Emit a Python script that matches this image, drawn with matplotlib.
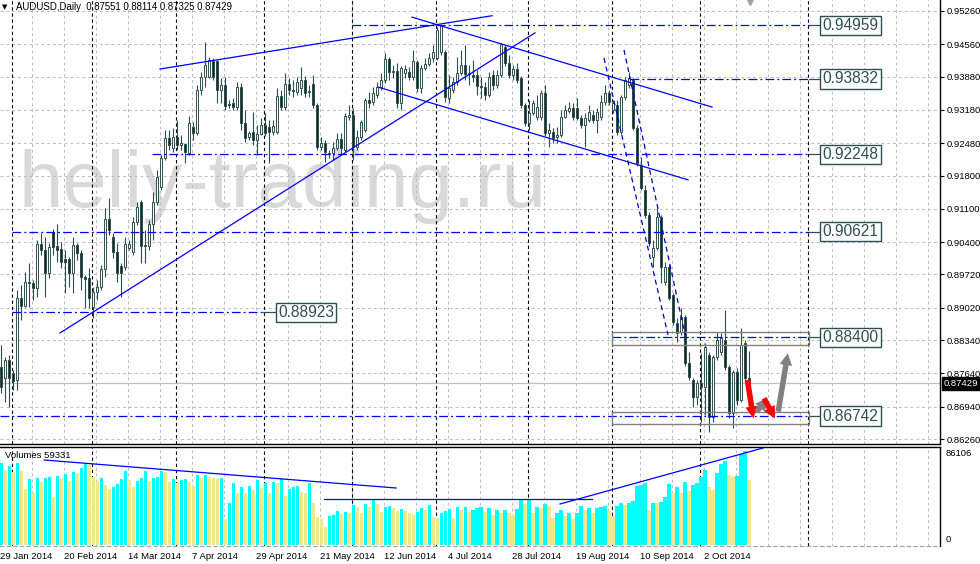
import matplotlib
matplotlib.use("Agg")
import matplotlib.pyplot as plt
from matplotlib.patches import Rectangle
import numpy as np

plt.rcParams['font.family'] = ['Liberation Sans', 'DejaVu Sans']

# ---------------- data ----------------
opens = [
 0.8777, 0.8754, 0.8792, 0.8765, 0.8750, 0.8923, 0.8906, 0.8956, 0.8954, 0.8944,
 0.9036, 0.9023, 0.8975, 0.9061, 0.9032, 0.9026, 0.9005, 0.9005, 0.8975, 0.9034,
 0.9017, 0.8967, 0.8965, 0.8904, 0.8935, 0.8946, 0.8984, 0.9089, 0.9051, 0.9019,
 0.8990, 0.8988, 0.9028, 0.9019, 0.9082, 0.9124, 0.9034, 0.9032, 0.9078, 0.9124,
 0.9156, 0.9217, 0.9259, 0.9238, 0.9261, 0.9244, 0.9246, 0.9227, 0.9282, 0.9269,
 0.9360, 0.9387, 0.9387, 0.9421, 0.9421, 0.9360, 0.9370, 0.9330, 0.9332, 0.9324,
 0.9366, 0.9291, 0.9261, 0.9272, 0.9255, 0.9267, 0.9286, 0.9282, 0.9272, 0.9272,
 0.9347, 0.9324, 0.9373, 0.9360, 0.9356, 0.9364, 0.9381, 0.9358, 0.9373, 0.9328,
 0.9240, 0.9248, 0.9225, 0.9227, 0.9238, 0.9257, 0.9234, 0.9303, 0.9307, 0.9240,
 0.9261, 0.9276, 0.9339, 0.9334, 0.9349, 0.9366, 0.9381, 0.9425, 0.9398, 0.9400,
 0.9332, 0.9396, 0.9398, 0.9387, 0.9419, 0.9364, 0.9406, 0.9414, 0.9427, 0.9427,
 0.9440, 0.9440, 0.9343, 0.9360, 0.9377, 0.9396, 0.9412, 0.9394, 0.9391, 0.9391,
 0.9368, 0.9366, 0.9349, 0.9391, 0.9370, 0.9391, 0.9450, 0.9417, 0.9391, 0.9404,
 0.9385, 0.9328, 0.9291, 0.9311, 0.9303, 0.9303, 0.9353, 0.9269, 0.9272, 0.9261,
 0.9265, 0.9303, 0.9316, 0.9322, 0.9322, 0.9301, 0.9286, 0.9297, 0.9307, 0.9297,
 0.9303, 0.9335, 0.9353, 0.9318, 0.9328, 0.9272, 0.9345, 0.9370, 0.9381, 0.9280,
 0.9202, 0.9150, 0.9097, 0.9009, 0.9028, 0.9093, 0.8956, 0.8988, 0.8929, 0.8870,
 0.8851, 0.8883, 0.8786, 0.8750, 0.8714, 0.8744, 0.8735, 0.8803, 0.8672, 0.8798,
 0.8809, 0.8834, 0.8777, 0.8681, 0.8767, 0.8708, 0.8828, 0.87551]

highs = [
 0.8824, 0.8798, 0.8803, 0.8771, 0.8939, 0.8950, 0.8977, 0.8996, 0.8960, 0.9044,
 0.9059, 0.9051, 0.9038, 0.9068, 0.9078, 0.9040, 0.9023, 0.9009, 0.9051, 0.9038,
 0.9023, 0.8971, 0.8986, 0.8946, 0.8960, 0.8992, 0.9112, 0.9133, 0.9059, 0.9038,
 0.8996, 0.9051, 0.9044, 0.9093, 0.9124, 0.9129, 0.9066, 0.9087, 0.9145, 0.9192,
 0.9223, 0.9276, 0.9276, 0.9280, 0.9297, 0.9265, 0.9248, 0.9305, 0.9293, 0.9370,
 0.9398, 0.9461, 0.9429, 0.9427, 0.9423, 0.9385, 0.9387, 0.9339, 0.9343, 0.9377,
 0.9374, 0.9318, 0.9274, 0.9314, 0.9286, 0.9301, 0.9311, 0.9297, 0.9297, 0.9364,
 0.9360, 0.9396, 0.9385, 0.9381, 0.9387, 0.9408, 0.9389, 0.9370, 0.9391, 0.9332,
 0.9261, 0.9255, 0.9234, 0.9250, 0.9269, 0.9269, 0.9311, 0.9328, 0.9322, 0.9276,
 0.9297, 0.9343, 0.9356, 0.9366, 0.9377, 0.9396, 0.9438, 0.9429, 0.9412, 0.9417,
 0.9410, 0.9412, 0.9408, 0.9444, 0.9423, 0.9412, 0.9427, 0.9438, 0.9454, 0.9492,
 0.9496, 0.9444, 0.9391, 0.9387, 0.9429, 0.9444, 0.9454, 0.9412, 0.9423, 0.9402,
 0.9387, 0.9377, 0.9398, 0.9402, 0.9402, 0.9459, 0.9454, 0.9433, 0.9412, 0.9417,
 0.9389, 0.9332, 0.9339, 0.9339, 0.9349, 0.9360, 0.9370, 0.9291, 0.9280, 0.9282,
 0.9318, 0.9328, 0.9335, 0.9332, 0.9343, 0.9307, 0.9311, 0.9328, 0.9318, 0.9322,
 0.9349, 0.9370, 0.9360, 0.9339, 0.9339, 0.9349, 0.9387, 0.9398, 0.9385, 0.9286,
 0.9219, 0.9160, 0.9103, 0.9044, 0.9112, 0.9097, 0.8998, 0.8992, 0.8933, 0.8880,
 0.8902, 0.8887, 0.8809, 0.8754, 0.8750, 0.8807, 0.8828, 0.8809, 0.8803, 0.8851,
 0.8849, 0.8897, 0.8782, 0.8771, 0.8775, 0.8859, 0.8834, 0.88114]

lows = [
 0.8723, 0.8704, 0.8693, 0.8729, 0.8729, 0.8876, 0.8904, 0.8904, 0.8918, 0.8925,
 0.9013, 0.8925, 0.8965, 0.9013, 0.8998, 0.8986, 0.8933, 0.8946, 0.8933, 0.9002,
 0.8939, 0.8902, 0.8902, 0.8880, 0.8918, 0.8939, 0.8967, 0.9055, 0.9007, 0.8956,
 0.8925, 0.8981, 0.9023, 0.9013, 0.9076, 0.8996, 0.8996, 0.9023, 0.9044, 0.9118,
 0.9150, 0.9213, 0.9234, 0.9230, 0.9234, 0.9234, 0.9206, 0.9223, 0.9255, 0.9265,
 0.9349, 0.9366, 0.9385, 0.9381, 0.9332, 0.9332, 0.9318, 0.9322, 0.9318, 0.9318,
 0.9276, 0.9250, 0.9255, 0.9244, 0.9223, 0.9265, 0.9263, 0.9206, 0.9265, 0.9267,
 0.9318, 0.9318, 0.9349, 0.9345, 0.9349, 0.9349, 0.9345, 0.9345, 0.9322, 0.9234,
 0.9234, 0.9208, 0.9217, 0.9213, 0.9234, 0.9223, 0.9230, 0.9297, 0.9213, 0.9234,
 0.9255, 0.9271, 0.9322, 0.9328, 0.9343, 0.9360, 0.9375, 0.9381, 0.9385, 0.9322,
 0.9318, 0.9385, 0.9381, 0.9381, 0.9356, 0.9353, 0.9402, 0.9410, 0.9419, 0.9423,
 0.9434, 0.9335, 0.9332, 0.9353, 0.9370, 0.9391, 0.9381, 0.9370, 0.9377, 0.9349,
 0.9343, 0.9339, 0.9345, 0.9360, 0.9364, 0.9387, 0.9410, 0.9385, 0.9381, 0.9375,
 0.9322, 0.9284, 0.9276, 0.9307, 0.9297, 0.9297, 0.9263, 0.9240, 0.9248, 0.9248,
 0.9261, 0.9301, 0.9311, 0.9297, 0.9297, 0.9280, 0.9240, 0.9293, 0.9291, 0.9269,
 0.9297, 0.9328, 0.9328, 0.9311, 0.9265, 0.9267, 0.9339, 0.9364, 0.9276, 0.9200,
 0.9150, 0.9091, 0.9032, 0.8988, 0.9023, 0.8954, 0.8950, 0.8918, 0.8866, 0.8830,
 0.8845, 0.8779, 0.8750, 0.8693, 0.8697, 0.8662, 0.8676, 0.8641, 0.8662, 0.8792,
 0.8803, 0.8771, 0.8670, 0.8649, 0.8697, 0.8704, 0.8746, 0.87325]

closes = [
 0.8735, 0.8792, 0.8754, 0.8748, 0.8923, 0.8906, 0.8956, 0.8954, 0.8944, 0.9036,
 0.9023, 0.8975, 0.9030, 0.9030, 0.9023, 0.8998, 0.8998, 0.8975, 0.9034, 0.9017,
 0.8967, 0.8962, 0.8923, 0.8935, 0.8946, 0.8984, 0.9089, 0.9066, 0.9019, 0.8975,
 0.8975, 0.9036, 0.9036, 0.9082, 0.9114, 0.9032, 0.9032, 0.9078, 0.9124, 0.9177,
 0.9217, 0.9259, 0.9244, 0.9261, 0.9244, 0.9248, 0.9230, 0.9291, 0.9269, 0.9360,
 0.9387, 0.9412, 0.9423, 0.9387, 0.9360, 0.9370, 0.9326, 0.9328, 0.9324, 0.9366,
 0.9291, 0.9259, 0.9269, 0.9255, 0.9267, 0.9286, 0.9269, 0.9272, 0.9284, 0.9347,
 0.9324, 0.9373, 0.9360, 0.9358, 0.9377, 0.9381, 0.9353, 0.9356, 0.9328, 0.9240,
 0.9248, 0.9230, 0.9227, 0.9238, 0.9257, 0.9238, 0.9305, 0.9307, 0.9240, 0.9261,
 0.9293, 0.9339, 0.9332, 0.9353, 0.9366, 0.9381, 0.9425, 0.9398, 0.9400, 0.9332,
 0.9406, 0.9404, 0.9387, 0.9421, 0.9364, 0.9406, 0.9414, 0.9427, 0.9440, 0.9486,
 0.9494, 0.9345, 0.9364, 0.9377, 0.9396, 0.9412, 0.9394, 0.9396, 0.9387, 0.9368,
 0.9366, 0.9349, 0.9387, 0.9370, 0.9391, 0.9457, 0.9417, 0.9391, 0.9404, 0.9381,
 0.9328, 0.9291, 0.9311, 0.9332, 0.9324, 0.9353, 0.9269, 0.9276, 0.9259, 0.9265,
 0.9303, 0.9318, 0.9322, 0.9303, 0.9301, 0.9286, 0.9301, 0.9314, 0.9297, 0.9314,
 0.9335, 0.9353, 0.9335, 0.9332, 0.9272, 0.9345, 0.9381, 0.9385, 0.9280, 0.9206,
 0.9154, 0.9097, 0.9038, 0.9028, 0.9093, 0.8988, 0.8988, 0.8923, 0.8872, 0.8849,
 0.8883, 0.8786, 0.8756, 0.8714, 0.8744, 0.8735, 0.8819, 0.8672, 0.8798, 0.8834,
 0.8838, 0.8777, 0.8681, 0.8767, 0.8708, 0.8824, 0.8754, 0.87429]

volumes = [
 74809, 68703, 72367, 67177, 74809, 67787, 50996, 60155, 47332, 61070,
 57407, 61681, 62291, 43668, 63207, 60460, 64734, 58628, 66871, 65650,
 70535, 74198, 73283, 62597, 58933, 61070, 54964, 50996, 53438, 55575,
 60155, 67787, 59544, 53438, 58323, 61681, 67787, 58628, 61681, 62597,
 67787, 67177, 58018, 60460, 56491, 59544, 60460, 58018, 54049, 64123,
 61070, 64429, 62597, 61681, 60155, 61070, 23824, 38784, 56491, 47332,
 53438, 47332, 54049, 50385, 59544, 51911, 57102, 47332, 58018, 56491,
 60155, 44890, 50996, 53438, 54354, 48858, 47332, 57102, 38173, 25961,
 23519, 16192, 26572, 27488, 31151, 28404, 30541, 29014, 36647, 35120,
 29014, 37257, 35120, 41226, 37257, 30541, 35120, 35731, 33594, 31151,
 32678, 31457, 29014, 27488, 30541, 33594, 32067, 36647, 25961, 24435,
 29014, 31151, 32678, 24435, 35120, 32067, 35120, 30541, 32067, 33594,
 35120, 30541, 33594, 27488, 32067, 29625, 32067, 29625, 27488, 32678,
 41226, 37562, 41226, 29014, 35120, 33594, 37562, 35731, 24435, 29625,
 32067, 26877, 29625, 23519, 29625, 35731, 32067, 34204, 29625, 34204,
 35120, 35731, 31151, 26572, 35731, 38173, 36647, 38784, 40310, 54354,
 54964, 56491, 32067, 38784, 38784, 39700, 44279, 55880, 47943, 52827,
 47943, 57712, 49469, 54964, 57102, 61986, 68703, 53438, 50385, 65650,
 74198, 77251, 64123, 62597, 63207, 83357, 86106, 59331]

tick_prices = [0.95260, 0.94560, 0.93880, 0.93180, 0.92480, 0.91800, 0.91100,
               0.90400, 0.89720, 0.89020, 0.88340, 0.87640, 0.86940, 0.86260]
date_labels = ["29 Jan 2014", "20 Feb 2014", "14 Mar 2014", "7 Apr 2014", "29 Apr 2014",
               "21 May 2014", "12 Jun 2014", "4 Jul 2014", "28 Jul 2014", "19 Aug 2014",
               "10 Sep 2014", "2 Oct 2014"]
date_label_bars = [0, 16, 32, 48, 64, 80, 96, 112, 128, 144, 160, 176]
month_start_bars = [3, 23, 44, 66, 88, 109, 132, 153, 175, 202]

levels = [0.94959, 0.93832, 0.92248, 0.90621, 0.88923, 0.88400, 0.86742]
level_start = [87.75, 157.25, 37.75, 2.75, 2.75, 152.75, -0.25]
level_end = [202, 202, 202, 202, 65.5, 202, 202]
level_label_x = [205.4, 205.4, 205.4, 205.4, 69.3, 205.4, 205.4]

zone_upper = (0.88236, 0.88510)
zone_lower = (0.86575, 0.86827)
zone_bars = (152.75, 202)
current_price = 0.87429

trend_solid = [([39.75, 122.75], [0.9404, 0.9516]),
               ([14.75, 133.5], [0.8849, 0.9480]),
               ([102.75, 177.75], [0.9513, 0.9324]),
               ([94.25, 171.75], [0.9366, 0.9171])]
trend_dashed = [([150.75, 166.75], [0.9427, 0.8845]),
                ([155.75, 171.0], [0.9444, 0.8845])]
vol_trends = [([10.75, 98.75], [77860, 52212]),
              ([80.75, 147.75], [42136, 42136]),
              ([139.75, 190.5], [37556, 88852])]

arrows = [  # (start bar, start price, end bar, end price, color)
    (186.6, 0.87500, 188.1, 0.86695, '#ff0000'),
    (188.9, 0.86834, 191.6, 0.87116, '#808080'),
    (190.75, 0.87116, 193.5, 0.86695, '#ff0000'),
    (194.3, 0.86834, 196.7, 0.88062, '#808080'),
]

# ---------------- figure ----------------
FW, FH = 980, 564
fig = plt.figure(figsize=(FW / 100, FH / 100), dpi=100)
fig.patch.set_facecolor('white')

def fx(px):
    return px / FW

def fy(py):
    return 1 - py / FH

XMIN, XMAX = -0.25, 234.75
ax = fig.add_axes([0, 120 / FH, 940 / FW, 444 / FH])
ax.set_xlim(XMIN, XMAX)
ax.set_ylim(0.86155, 0.95491)
ax.set_facecolor('white')

axv = fig.add_axes([0, 18 / FH, 940 / FW, 99 / FH])
axv.set_xlim(XMIN, XMAX)
axv.set_ylim(-916, 89768)
axv.set_facecolor('white')

GRID = '#bcbcbc'
DOTS = (0, (3, 3))
for a in (ax, axv):
    for b in np.arange(8, 236, 8):
        a.axvline(b - 0.2, color=GRID, lw=0.7, ls=DOTS, zorder=1)
    for b in month_start_bars:
        a.axvline(b - 0.2, color='black', lw=0.8, ls=(0, (3, 2.5)), zorder=1.2)
for p in tick_prices:
    ax.axhline(p, color=GRID, lw=0.7, ls=DOTS, zorder=1)

# watermark
ax.text(4.3, 0.9114, "heliy-trading.ru", fontsize=57.5, color='#d9d9d9',
        family='Liberation Sans', ha='left', va='baseline', zorder=0.5)

# current price line
ax.axhline(current_price, color='#c0c0c0', lw=0.9, zorder=1.5)

# candles
EDGE = '#2F4F4F'
for i, (o, h, l, c) in enumerate(zip(opens, highs, lows, closes)):
    ax.plot([i, i], [l, h], color=EDGE, lw=0.8, zorder=3, solid_capstyle='butt')
    bull = c >= o
    ax.add_patch(Rectangle((i - 0.3, min(o, c)), 0.6, max(abs(c - o), 0.00002),
                           facecolor='white' if bull else '#1b2727',
                           edgecolor=EDGE, lw=0.7, zorder=3.2))

# level lines
DASHDOT = (0, (7, 2.5, 1.5, 2.5))
for lvl, s, e, lx in zip(levels, level_start, level_end, level_label_x):
    ax.plot([s, e], [lvl, lvl], color='#0000ff', lw=0.9, ls=DASHDOT, zorder=4)
    ax.plot([e, lx - 0.9], [lvl, lvl], color=EDGE, lw=0.9, zorder=4)
    ax.text(lx, lvl, f"{lvl:.5f}", fontsize=11.2, color=EDGE,
            family='Liberation Sans',
            ha='left', va='center', zorder=6,
            bbox=dict(boxstyle='square,pad=0.14', fc='white', ec=EDGE, lw=1))

# zones
for lo, hi in (zone_upper, zone_lower):
    ax.add_patch(Rectangle((zone_bars[0], lo), zone_bars[1] - zone_bars[0], hi - lo,
                           fill=False, ec='#808080', lw=1, zorder=4))

# trendlines
for xs, ys in trend_solid:
    ax.plot(xs, ys, color='#0000ff', lw=0.9, zorder=4.5)
for xs, ys in trend_dashed:
    ax.plot(xs, ys, color='#0000c8', lw=0.9, ls=(0, (4, 3)), zorder=4.5)

# arrows
for x0, y0, x1, y1, col in arrows:
    ax.annotate('', xy=(x1, y1), xytext=(x0, y0),
                arrowprops=dict(arrowstyle='simple,head_length=0.85,head_width=0.9,tail_width=0.4',
                                color=col, lw=0, shrinkA=0, shrinkB=0, mutation_scale=10),
                zorder=7)

# shift marker
ax.plot([187.3], [0.9546], marker='v', color='#a0a0a0', markersize=6, clip_on=False, zorder=7)

# axes styling (main)
for s in ('top', 'left'):
    ax.spines[s].set_visible(False)
ax.spines['right'].set_linewidth(1)
ax.spines['bottom'].set_linewidth(1)
ax.set_xticks([])
ax.yaxis.tick_right()
ax.set_yticks(tick_prices)
ax.set_yticklabels([f"{p:.5f}" for p in tick_prices])
ax.tick_params(axis='y', length=3, width=0.8, pad=2, labelsize=6.8, colors='black')

# volumes
vcols = ['#00ffff' if i == 0 or volumes[i] > volumes[i - 1] else '#f0e68c'
         for i in range(len(volumes))]
axv.bar(np.arange(len(volumes)), volumes, width=0.8, color=vcols, zorder=2, linewidth=0)
for xs, ys in vol_trends:
    axv.plot(xs, ys, color='#0000ff', lw=0.9, zorder=4)
axv.spines['left'].set_visible(False)
axv.spines['top'].set_linewidth(1)
axv.spines['right'].set_linewidth(1)
axv.spines['bottom'].set_color('#a0a0a0')
axv.spines['bottom'].set_linestyle((0, (3, 3)))
axv.set_yticks([])
axv.set_xticks([b - 0.3 for b in date_label_bars])
axv.set_xticklabels(date_labels)
axv.tick_params(axis='x', length=0, pad=4, labelsize=6.8)
for lbl in axv.get_xticklabels():
    lbl.set_horizontalalignment('left')

# header texts
fig.text(fx(2), fy(7.5), '\u25bc', fontsize=5, family='DejaVu Sans', va='center', ha='left')
fig.text(fx(16), fy(7.5), 'AUDUSD,Daily  0.87551 0.88114 0.87325 0.87429',
         fontsize=6.9, va='center', ha='left')
fig.text(fx(5), fy(455), 'Volumes 59331', fontsize=6.8, va='center', ha='left')
fig.text(fx(946), fy(453), '86106', fontsize=6.8, va='center', ha='left')
fig.text(fx(946), fy(539), '0', fontsize=6.8, va='center', ha='left')
fig.text(fx(944), fy(383.5), f"{current_price:.5f}", fontsize=6.8, color='white',
         va='center', ha='left',
         bbox=dict(boxstyle='square,pad=0.25', fc='black', ec='black'))

fig.savefig('out.png', dpi=100, facecolor='white')
